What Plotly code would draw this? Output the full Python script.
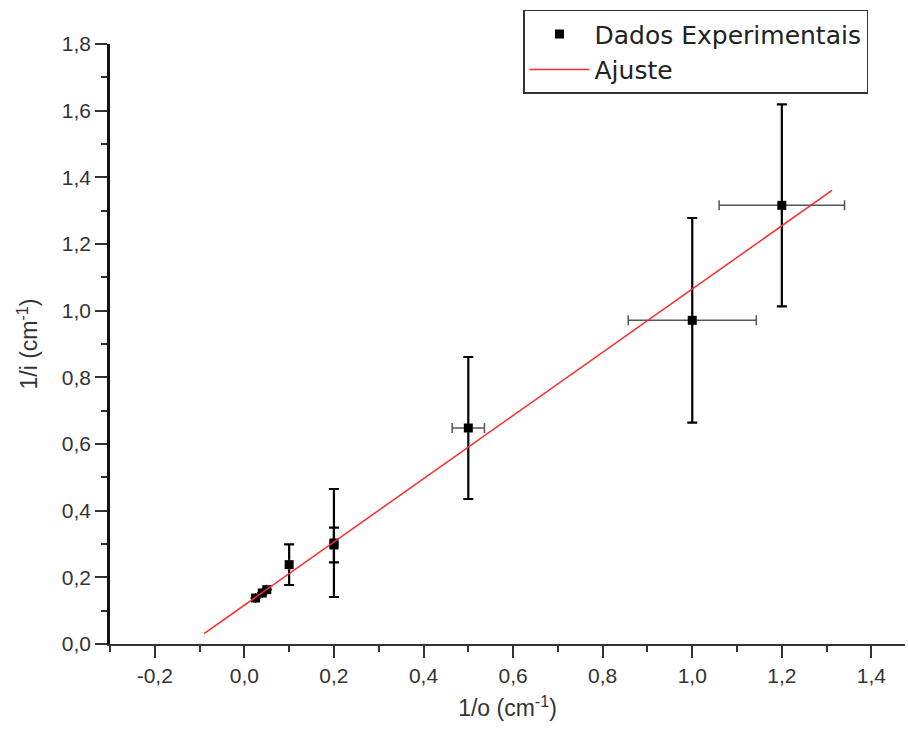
import plotly.graph_objects as go

# ---- data ----
x_data = [0.025, 0.04, 0.05, 0.1, 0.2, 0.2, 0.5, 1.0, 1.2]
y_data = [0.138, 0.153, 0.163, 0.238, 0.303, 0.297, 0.648, 0.971, 1.316]
y_err = [0.0, 0.0, 0.0, 0.061, 0.162, 0.052, 0.213, 0.307, 0.303]
x_err = [0.0, 0.0, 0.0, 0.0, 0.0, 0.0, 0.036, 0.143, 0.14]

fit_x = [-0.09, 1.312]
fit_y = [0.031, 1.361]

x_tickvals = [-0.2, 0.0, 0.2, 0.4, 0.6, 0.8, 1.0, 1.2, 1.4]
x_ticktext = ["-0,2", "0,0", "0,2", "0,4", "0,6", "0,8", "1,0", "1,2", "1,4"]
y_tickvals = [0.0, 0.2, 0.4, 0.6, 0.8, 1.0, 1.2, 1.4, 1.6, 1.8]
y_ticktext = ["0,0", "0,2", "0,4", "0,6", "0,8", "1,0", "1,2", "1,4", "1,6", "1,8"]

FONT = "Liberation Sans, Arial, sans-serif"

fig = go.Figure()
fig.add_trace(go.Scatter(
    x=x_data, y=y_data, mode="markers", name="Dados Experimentais",
    marker=dict(symbol="square", size=9, color="black"),
    error_y=dict(type="data", array=y_err, visible=True, color="black",
                 thickness=2.2, width=5),
    error_x=dict(type="data", array=x_err, visible=True, color="#555555",
                 thickness=1.5, width=5),
))
fig.add_trace(go.Scatter(
    x=fit_x, y=fit_y, mode="lines", name="Ajuste",
    line=dict(color="#ff2a2a", width=1.5),
))

fig.update_layout(
    width=908, height=734,
    margin=dict(l=110, r=3, t=44, b=90),
    paper_bgcolor="white", plot_bgcolor="white",
    font=dict(family=FONT, size=21, color="#222222"),
    showlegend=True,
    legend=dict(
        x=0.5195, y=1.057, xanchor="left", yanchor="top",
        bordercolor="#333333", borderwidth=1.5, bgcolor="white",
        font=dict(family="DejaVu Sans, sans-serif", size=25, color="#222222"),
        tracegroupgap=0, itemwidth=60,
    ),
    xaxis=dict(
        range=[-0.3, 1.475], showgrid=False, zeroline=False,
        showline=True, linecolor="#333333", linewidth=2,
        tickmode="array", tickvals=x_tickvals, ticktext=x_ticktext,
        ticks="outside", ticklen=12, tickwidth=2, tickcolor="#333333",
        minor=dict(dtick=0.1, tick0=0, ticks="outside", ticklen=6,
                   tickwidth=2, tickcolor="#333333", showgrid=False),
        tickfont=dict(size=21, color="#333333"),
        title=dict(text="1/o (cm<sup>-1</sup>)", font=dict(size=23, color="#333333"),
                   standoff=14),
    ),
    yaxis=dict(
        range=[0, 1.8], showgrid=False, zeroline=False,
        showline=True, linecolor="#111111", linewidth=2.5,
        tickmode="array", tickvals=y_tickvals, ticktext=y_ticktext,
        ticks="outside", ticklen=12, tickwidth=2, tickcolor="#333333",
        minor=dict(dtick=0.1, tick0=0, ticks="outside", ticklen=6,
                   tickwidth=2, tickcolor="#333333", showgrid=False),
        tickfont=dict(size=21, color="#333333"),
        title=dict(text="1/i (cm<sup>-1</sup>)", font=dict(size=23, color="#333333"),
                   standoff=18),
    ),
)

fig.write_html("out.html")
